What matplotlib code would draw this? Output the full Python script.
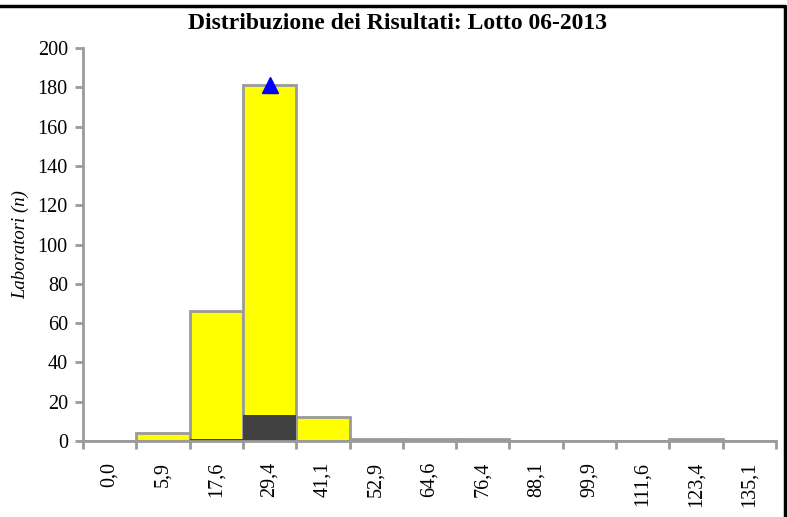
import matplotlib.pyplot as plt
import numpy as np

CLASSES = ["0,0", "5,9", "17,6", "29,4", "41,1", "52,9", "64,6", "76,4",
           "88,1", "99,9", "111,6", "123,4", "135,1"]
ALL_LABS = [0, 4, 66, 181, 12, 1, 1, 1, 0, 0, 0, 1, 0]
SUBSET = [0, 0, 1, 13, 0, 0, 0, 0, 0, 0, 0, 0, 0]
TARGET_CLASS = 3
TARGET_VALUE = 181

GREY = "#9a9a9a"

plt.rcParams["font.family"] = ["Liberation Serif", "DejaVu Serif"]

fig = plt.figure(figsize=(7.87, 5.17), dpi=100)
ax = fig.add_axes([0.1055, 0.147, 0.8805, 0.76])

x = np.arange(len(CLASSES))
ax.bar(x, ALL_LABS, width=1.0, align="edge", color="#ffff00",
       edgecolor=GREY, linewidth=2, zorder=2)
ax.bar(x, SUBSET, width=1.0, align="edge", color="#404040",
       edgecolor="none", linewidth=0, zorder=3)
ax.plot(TARGET_CLASS + 0.5, TARGET_VALUE, marker="^", color="#0000ff",
        markersize=12, linestyle="none", zorder=4, clip_on=False)

ax.set_xlim(0, len(CLASSES))
ax.set_ylim(0, 200)
ax.set_yticks(range(0, 201, 20))
ax.set_xticks(range(len(CLASSES) + 1))
ax.set_xticklabels([])
ax.set_xticks(x + 0.5, minor=True)
ax.set_xticklabels(CLASSES, minor=True, rotation=90)
ax.tick_params(axis="x", which="minor", length=0, labelsize=14.5, pad=15)
ax.tick_params(axis="x", which="major", direction="out", length=6,
               width=2, color=GREY)
ax.tick_params(axis="y", direction="out", length=6, width=2, color=GREY,
               labelsize=14.5, pad=5)

for side in ("top", "right"):
    ax.spines[side].set_visible(False)
for side in ("left", "bottom"):
    ax.spines[side].set_color(GREY)
    ax.spines[side].set_linewidth(2)
    ax.spines[side].set_zorder(5)

ax.set_ylabel("Laboratori (n)", style="italic", fontsize=13.5, labelpad=6)
fig.text(0.505, 0.955, "Distribuzione dei Risultati: Lotto 06-2013",
         ha="center", va="center", fontsize=17, fontweight="bold")

# black frame: top and right edges only
fig.add_artist(plt.Line2D([0, 0.9975, 0.9975], [0.989, 0.989, 0],
                          transform=fig.transFigure, color="black",
                          linewidth=2.5))

fig.savefig("out.png", dpi=100)
